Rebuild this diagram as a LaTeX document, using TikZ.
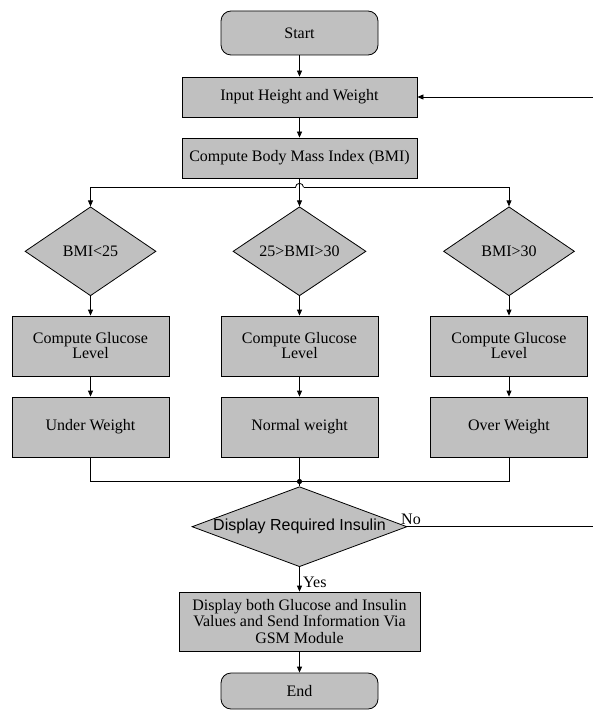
\documentclass[tikz,border=0pt]{standalone}
\usepackage{fontspec}
\setmainfont{Liberation Serif}
\newfontfamily\arialf{Liberation Sans}
\usetikzlibrary{shapes.geometric,arrows.meta}
\definecolor{boxgray}{HTML}{C0C0C0}
\tikzset{
  base/.style={draw=black, fill=boxgray, line width=0.8pt, inner sep=0pt, align=center,
    font=\fontsize{16}{15}\selectfont},
  procbox/.style={base, rectangle, minimum width=#1, minimum height=60pt},
  procbox/.default=157pt,
  termbox/.style={base, rectangle, rounded corners=10pt, minimum width=157pt},
  decbox/.style={base, diamond, minimum width=#1, minimum height=89pt},
  conn/.style={line width=0.8pt, draw=black},
  arr/.style={conn, -{Triangle[length=6pt,width=5pt]}},
}
\begin{document}
\begin{tikzpicture}[x=1pt, y=1pt, yscale=-1]
\useasboundingbox (0,0) rectangle (593,711);
\fill[white] (0,0) rectangle (593,711);

\node[termbox, minimum height=44pt] (start) at (299.5,33) {Start};
\node[procbox=235pt, minimum height=40pt] (input) at (299.5,97) {Input Height and Weight};
\node[procbox=235pt, minimum height=40pt] (bmi) at (299.5,158) {Compute Body Mass Index (BMI)};

\node[decbox=131pt] (d1) at (90.5,251.3) {\makebox[0pt]{BMI<25}};
\node[decbox=133pt] (d2) at (299.5,251.3) {\makebox[0pt]{25>BMI>30}};
\node[decbox=131pt] (d3) at (509,251.3) {\makebox[0pt]{BMI>30}};

\node[procbox] (g1) at (90.5,346) {Compute Glucose\\Level};
\node[procbox] (g2) at (299.5,346) {Compute Glucose\\Level};
\node[procbox] (g3) at (509,346) {Compute Glucose\\Level};

\node[procbox] (w1) at (90.5,427) {Under Weight};
\node[procbox] (w2) at (299.5,427) {Normal weight};
\node[procbox] (w3) at (509,427) {Over Weight};

\node[base, diamond, minimum width=215pt, minimum height=80pt] (dd) at (299.5,526.7)
  {\makebox[0pt]{\arialf\fontsize{16}{16}\selectfont Display Required Insulin}};

\node[procbox=241pt, minimum height=59pt, font=\fontsize{16}{16.3}\selectfont] (gsm) at (299.5,621.5)
  {Display both Glucose and Insulin\\Values and Send Information Via\\GSM Module};
\node[termbox, minimum height=36pt] (end) at (299.5,691) {End};

\coordinate (inR) at (593,97);
\coordinate (br) at (299.5,187.3);
\coordinate (m) at (299.5,481.5);
\coordinate (noR) at (593,526.7);

% top flow
\draw[arr] (start) -- (input);
\draw[arr] (inR) -- (input.east);
\draw[arr] (input) -- (bmi);
\draw[arr] (bmi.south) -- (d2.north);

% branch line with hop
\draw[arr] ([xshift=-4pt]br) -| (d1.north);
\draw[arr] ([xshift=4pt]br) -| (d3.north);
\draw[conn] ([xshift=-4pt]br) arc[start angle=180, end angle=360, radius=4pt];

% columns
\foreach \i in {1,2,3} {
  \draw[arr] (d\i.south) -- (g\i.north);
  \draw[arr] (g\i.south) -- (w\i.north);
}

% merge
\draw[conn] (w1.south) |- (m);
\draw[conn] (w3.south) |- (m);
\draw[conn] (w2.south) -- (m);
\draw[conn] (m) -- (dd.north);
\fill (m) circle[radius=2.6pt];

% decision outputs
\draw[arr] (dd.south) -- node[pos=0.62, right=0pt, font=\fontsize{16}{16}\selectfont] (yes) {Yes} (gsm.north);
\draw[conn] (dd.east) -- (noR);
\node[font=\fontsize{16}{16}\selectfont, inner sep=0pt] (no) at (411,519) {No};

\draw[arr] (gsm) -- (end);
\end{tikzpicture}
\end{document}
